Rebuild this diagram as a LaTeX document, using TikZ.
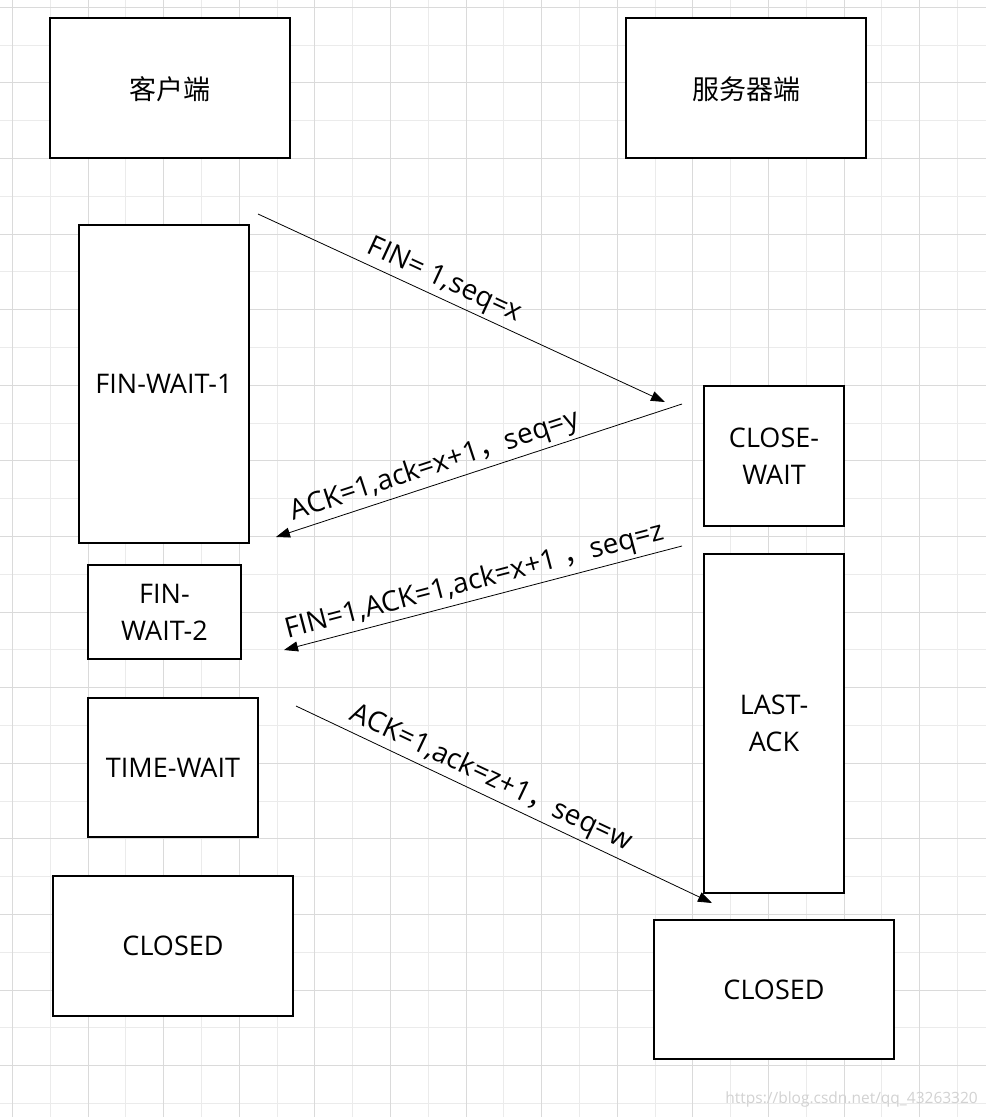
\documentclass[tikz,border=0pt]{standalone}
\usepackage{fontspec}
\setmainfont{Open Sans}
\newfontfamily\cjk{Noto Sans CJK SC}
\usetikzlibrary{arrows.meta,positioning}

\definecolor{gridmajor}{HTML}{DADADA}
\definecolor{gridminor}{HTML}{EBEBEB}

\begin{document}
\begin{tikzpicture}[x=1pt,y=-1pt,
   box/.style={draw,fill=white,line width=1.1pt,align=center,inner sep=0pt,
      text depth=0pt,font=\fontsize{27}{37}\selectfont},
   msg/.style={-{Triangle[length=14pt,width=10pt]},line width=0.8pt},
   lbl/.style={sloped,above,font=\fontsize{28}{30}\selectfont}]
   % background grid
   \fill[white] (0,0) rectangle (986,1117);
   \useasboundingbox (0,0) rectangle (986,1117);
   \foreach \x in {50.3,125.9,...,986} \draw[gridminor,line width=1pt] (\x,0) -- (\x,1117);
   \foreach \y in {45.1,120.7,...,1117} \draw[gridminor,line width=1pt] (0,\y) -- (986,\y);
   \foreach \x in {12.5,88.1,...,986} \draw[gridmajor,line width=1pt] (\x,0) -- (\x,1117);
   \foreach \y in {7.3,82.9,...,1117} \draw[gridmajor,line width=1pt] (0,\y) -- (986,\y);

   % client side
   \node[box,minimum width=240pt,minimum height=140pt] (cli) at (170,88) {\cjk 客户端};
   \node[box,minimum width=170pt,minimum height=318pt] (fw1) at (164,384) {FIN-WAIT-1};
   \node[box,minimum width=153pt,minimum height=94pt] (fw2) at (164.5,612) {FIN-\\WAIT-2};
   \node[box,minimum width=170pt,minimum height=139pt] (tw) at (173,767.5) {TIME-WAIT};
   \node[box,minimum width=240pt,minimum height=140pt] (clo1) at (173,946) {CLOSED};

   % server side
   \node[box,minimum width=240pt,minimum height=140pt] (srv) at (746,88) {\cjk 服务器端};
   \node[box,minimum width=140pt,minimum height=140pt] (cw) at (774,456) {CLOSE-\\WAIT};
   \node[box,minimum width=140pt,minimum height=339pt] (la) at (774,723.5) {LAST-\\ACK};
   \node[box,minimum width=240pt,minimum height=139pt] (clo2) at (774,989.5) {CLOSED};

   % message ends
   \coordinate (m1a) at (258,214);
   \coordinate (m1b) at (665,402);
   \coordinate (m2a) at (682,404);
   \coordinate (m2b) at (276,537);
   \coordinate (m3a) at (682,546);
   \coordinate (m3b) at (284,650);
   \coordinate (m4a) at (296,706);
   \coordinate (m4b) at (712,903);

   \path[msg]
   (m1a) edge node[lbl,pos=.44] {FIN= 1,seq=x} (m1b)
   (m2a) edge node[lbl,pos=.595] {ACK=1,ack=x+1{\cjk ，}seq=y} (m2b)
   (m3a) edge node[lbl,pos=.51] {FIN=1,ACK=1,ack=x+1 {\cjk ，}seq=z} (m3b)
   (m4a) edge node[lbl,pos=.45] {ACK=1,ack=z+1{\cjk ，}seq=w} (m4b);

   \node[text=gray!35,anchor=east,inner sep=0pt,font=\fontsize{15.5}{18}\selectfont] (wm) at (978,1099)
      {https://blog.csdn.net/qq\_43263320};
\end{tikzpicture}
\end{document}
